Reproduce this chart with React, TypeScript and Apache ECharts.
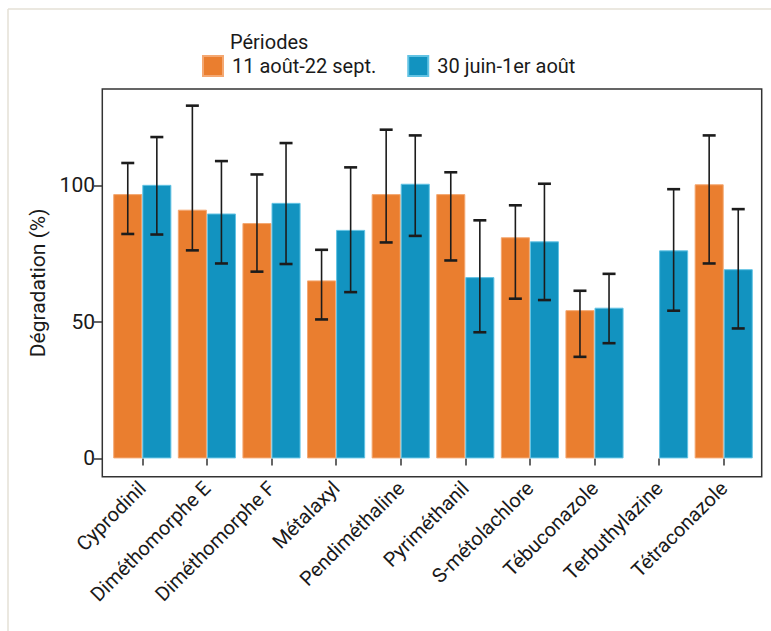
import React, { useEffect, useRef } from "react";
import * as echarts from "echarts";

const categories = [
  "Cyprodinil",
  "Diméthomorphe E",
  "Diméthomorphe F",
  "Métalaxyl",
  "Pendiméthaline",
  "Pyriméthanil",
  "S-métolachlore",
  "Tébuconazole",
  "Terbuthylazine",
  "Tétraconazole",
];
const seriesNames = ["11 août-22 sept.", "30 juin-1er août"];
const augValues = [96.8, 91.1, 86.2, 65.2, 96.8, 96.8, 81.0, 54.3, null, 100.4];
const augLow = [82.2, 76.2, 68.4, 50.9, 79.1, 72.5, 58.5, 37.2, null, 71.4];
const augHigh = [108.2, 129.2, 104.0, 76.4, 120.4, 104.8, 92.7, 61.4, null, 118.3];
const julValues = [100.2, 89.7, 93.6, 83.7, 100.6, 66.4, 79.5, 55.2, 76.2, 69.3];
const julLow = [82.0, 71.4, 71.2, 60.9, 81.5, 46.2, 58.0, 42.2, 54.1, 47.6];
const julHigh = [117.7, 108.9, 115.5, 106.6, 118.3, 87.2, 100.6, 67.6, 98.6, 91.3];
const yTicks = [0, 50, 100];

const FONT = "Roboto";
const ORANGE = "#EA7E2F";
const BLUE = "#1293C0";

function errData(low: (number | null)[], high: (number | null)[]) {
  const out: number[][] = [];
  low.forEach((l, i) => {
    const h = high[i];
    if (l != null && h != null) out.push([i, l, h]);
  });
  return out;
}

function errSeries(name: string, data: number[][], sign: number) {
  return {
    type: "custom",
    name,
    z: 5,
    encode: { x: 0, y: [1, 2] },
    data,
    renderItem: (params: any, api: any) => {
      const idx = api.value(0);
      const lo = api.value(1);
      const hi = api.value(2);
      const band = api.size([1, 0])[0];
      const pLo = api.coord([idx, lo]);
      const pHi = api.coord([idx, hi]);
      const cx = pLo[0] + sign * band * 0.225;
      const cap = 6.5;
      const st = { stroke: "#1c1c1c", lineWidth: 1.6 };
      const cs = { stroke: "#1c1c1c", lineWidth: 2.6 };
      return {
        type: "group",
        children: [
          { type: "line", shape: { x1: cx, y1: pLo[1], x2: cx, y2: pHi[1] }, style: st },
          { type: "line", shape: { x1: cx - cap, y1: pHi[1], x2: cx + cap, y2: pHi[1] }, style: cs },
          { type: "line", shape: { x1: cx - cap, y1: pLo[1], x2: cx + cap, y2: pLo[1] }, style: cs },
        ],
      };
    },
  };
}

export default function App() {
  const ref = useRef<HTMLDivElement>(null);
  useEffect(() => {
    document.body.style.margin = "0";
    const chart = echarts.init(ref.current!, null, { renderer: "svg" });
    chart.setOption({
      animation: false,
      backgroundColor: "#ffffff",
      textStyle: { fontFamily: FONT },
      grid: { left: 110, right: 15, top: 89, bottom: 154.3, containLabel: false },
      legend: {
        data: seriesNames,
        left: 202,
        top: 55,
        itemWidth: 20,
        itemHeight: 20,
        itemGap: 31,
        padding: 0,
        icon: "rect",
        textStyle: { fontFamily: FONT, fontSize: 20, color: "#1a1a1a", padding: [0, 0, 0, 4] },
      },
      xAxis: {
        type: "category",
        data: categories,
        axisLine: { show: false },
        axisTick: { show: true, alignWithLabel: true, length: 7, lineStyle: { color: "#333", width: 1.5 } },
        axisLabel: { rotate: 45, margin: 8, fontSize: 20, color: "#1a1a1a", fontFamily: FONT, interval: 0 },
        splitLine: { show: false },
      },
      yAxis: {
        type: "value",
        min: -6.7,
        max: 135.3,
        offset: 8,
        name: "Dégradation (%)",
        nameLocation: "middle",
        nameRotate: 90,
        nameGap: 50,
        nameTextStyle: { fontSize: 21, color: "#1a1a1a", fontFamily: FONT },
        axisLine: { show: false },
        axisTick: { show: true, length: 8, customValues: yTicks, lineStyle: { color: "#333", width: 1.5 } },
        axisLabel: { customValues: yTicks, margin: 7, fontSize: 21, color: "#1a1a1a", fontFamily: FONT },
        splitLine: { show: false },
      },
      graphic: [
        { type: "line", shape: { x1: 8, y1: 9, x2: 771, y2: 9 }, style: { stroke: "#E4E0D6", lineWidth: 1.5 } },
        { type: "line", shape: { x1: 8, y1: 9, x2: 8, y2: 631 }, style: { stroke: "#E4E0D6", lineWidth: 1.5 } },
        {
          type: "rect",
          shape: { x: 102.3, y: 89, width: 659.4, height: 387.7 },
          style: { fill: "none", stroke: "#333", lineWidth: 1.5 },
        },
        {
          type: "text",
          x: 230,
          y: 42,
          style: { text: "Périodes", fontSize: 20, fontFamily: FONT, fill: "#1a1a1a", textVerticalAlign: "middle" },
        },
      ],
      series: [
        {
          type: "bar",
          name: seriesNames[0],
          data: augValues,
          barGap: "0%",
          barCategoryGap: "10%",
          itemStyle: { color: ORANGE, borderColor: "#F4A872", borderWidth: 1 },
        },
        {
          type: "bar",
          name: seriesNames[1],
          data: julValues,
          barGap: "0%",
          barCategoryGap: "10%",
          itemStyle: { color: BLUE, borderColor: "#62C3E4", borderWidth: 1 },
        },
        errSeries("errAug", errData(augLow, augHigh), -1),
        errSeries("errJul", errData(julLow, julHigh), 1),
      ],
    });
    return () => chart.dispose();
  }, []);
  return <div ref={ref} style={{ width: 771, height: 631 }} />;
}
